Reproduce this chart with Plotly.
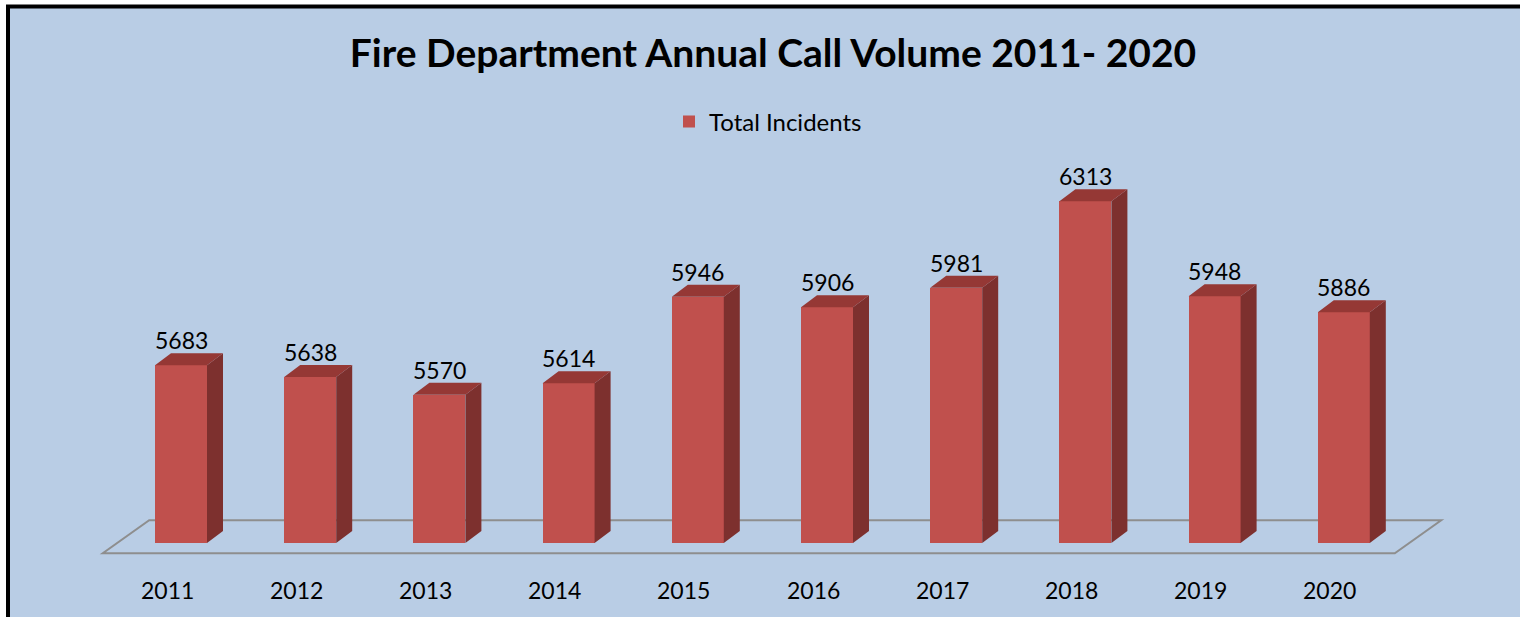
import plotly.graph_objects as go

# ---- data ----
years = ["2011", "2012", "2013", "2014", "2015", "2016", "2017", "2018", "2019", "2020"]
incidents = [5683, 5638, 5570, 5614, 5946, 5906, 5981, 6313, 5948, 5886]
axis_min = 5000
title_text = "Fire Department Annual Call Volume 2011- 2020"
series_name = "Total Incidents"

# ---- layout geometry (pixels) ----
W, H = 1520, 617
px_per_cat = 129.2
first_center_px = 181
px_per_unit = 0.2603
baseline_px = 543

xr = [-first_center_px / px_per_cat, (W - first_center_px) / px_per_cat]
yr = [axis_min - (H - baseline_px) / px_per_unit, axis_min + baseline_px / px_per_unit]

bar_w = 52 / px_per_cat
ddx = 16 / px_per_cat          # depth offset in x (data units)
ddy = 12 / px_per_unit         # depth offset in y (data units)

FRONT = "#C0504D"
SIDE = "#7D302E"
TOP = "#953835"
BG = "#B9CDE5"

n = len(years)
idx = list(range(n))

fig = go.Figure()

# front faces
fig.add_trace(go.Bar(
    x=idx, y=[v - axis_min for v in incidents], base=axis_min,
    width=bar_w, marker=dict(color=FRONT, line=dict(width=0)),
    name=series_name, showlegend=True, hoverinfo="skip",
))

# side faces and top faces
sx, sy, tx, ty = [], [], [], []
for i, v in zip(idx, incidents):
    r = i + bar_w / 2
    l = i - bar_w / 2
    sx += [r, r + ddx, r + ddx, r, r, None]
    sy += [axis_min, axis_min + ddy, v + ddy, v, axis_min, None]
    tx += [l, r, r + ddx, l + ddx, l, None]
    ty += [v, v, v + ddy, v + ddy, v, None]

fig.add_trace(go.Scatter(x=sx, y=sy, mode="lines", fill="toself", fillcolor=SIDE,
                         line=dict(width=0, color=SIDE), showlegend=False, hoverinfo="skip"))
fig.add_trace(go.Scatter(x=tx, y=ty, mode="lines", fill="toself", fillcolor=TOP,
                         line=dict(width=0, color=TOP), showlegend=False, hoverinfo="skip"))

# floor (parallelogram) below bars
front_dx, front_dy = -0.85 * ddx, -0.85 * ddy
back_dx, back_dy = 2.05 * ddx, 1.9 * ddy
x_fl, x_fr = -0.5 + front_dx, n - 0.5 + front_dx
x_bl, x_br = -0.5 + back_dx, n - 0.5 + back_dx
y_f, y_b = axis_min + front_dy, axis_min + back_dy
floor_path = f"M {x_fl},{y_f} L {x_fr},{y_f} L {x_br},{y_b} L {x_bl},{y_b} Z"

bx = 8 / W
by = 1 - 6.5 / H
shapes = [
    dict(type="rect", xref="paper", yref="paper", x0=bx, x1=1.2, y0=-0.2, y1=by,
         fillcolor=BG, line=dict(width=0), layer="below"),
    dict(type="line", xref="paper", yref="paper", x0=bx, x1=bx, y0=-0.2, y1=by,
         line=dict(color="black", width=4), layer="below"),
    dict(type="line", xref="paper", yref="paper", x0=bx - 2 / W, x1=1.2, y0=by, y1=by,
         line=dict(color="black", width=4), layer="below"),
    dict(type="path", xref="x", yref="y", path=floor_path,
         line=dict(color="#8E8E8E", width=2), fillcolor="rgba(0,0,0,0)", layer="below"),
]

annotations = []
for i, v in zip(idx, incidents):
    annotations.append(dict(x=i, y=v, xref="x", yref="y", text=str(v), showarrow=False,
                            yanchor="middle", yshift=25,
                            font=dict(family="Lato", size=23, color="black")))
label_y = axis_min - (590 - baseline_px) / px_per_unit
for i, yl in zip(idx, years):
    annotations.append(dict(x=i - 14 / px_per_cat, y=label_y, xref="x", yref="y", text=yl,
                            showarrow=False, yanchor="middle",
                            font=dict(family="Lato", size=23, color="black")))

fig.update_layout(
    width=W, height=H, autosize=False,
    margin=dict(l=0, r=0, t=0, b=0, pad=0),
    paper_bgcolor="white", plot_bgcolor="rgba(0,0,0,0)",
    title=dict(text=f"<b>{title_text}</b>", x=773 / W, xanchor="center",
               y=1 - 53 / H, yanchor="middle", xref="paper", yref="container",
               font=dict(family="Lato", size=39, color="black")),
    xaxis=dict(range=xr, visible=False, fixedrange=True),
    yaxis=dict(range=yr, visible=False, fixedrange=True),
    legend=dict(orientation="h", x=669 / W, xanchor="left", y=1 - 122 / H, yanchor="middle",
                bgcolor="rgba(0,0,0,0)", font=dict(family="Lato", size=24, color="black")),
    shapes=shapes, annotations=annotations,
    bargap=0,
)

fig.write_html("out.html")
